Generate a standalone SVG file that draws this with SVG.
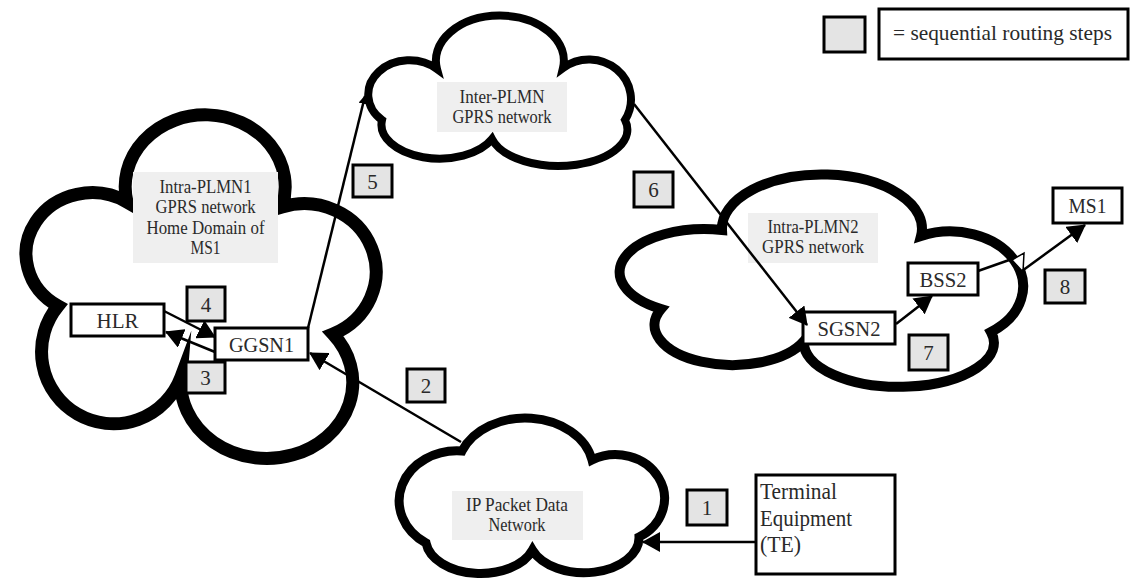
<svg xmlns="http://www.w3.org/2000/svg" width="1130" height="579" viewBox="0 0 1130 579">
<style>
.cloud{fill:#fff;stroke:#000;stroke-linejoin:miter;stroke-miterlimit:10}
.lab{fill:#efefef}
.t{font-family:"Liberation Serif","Times New Roman",serif;fill:#2a2a2a}
.lt{font-size:18px;text-anchor:middle}
.box{fill:#fff;stroke:#000;stroke-width:3}
.bt{font-size:22px;text-anchor:middle}
.step{fill:#e4e4e4;stroke:#000;stroke-width:3}
.st{font-size:21px;text-anchor:middle}
.conn{stroke:#000;stroke-width:2.5;fill:none}
</style>
<defs>
<marker id="ah" markerUnits="userSpaceOnUse" markerWidth="18" markerHeight="20" viewBox="0 0 18 20" refX="17" refY="10" orient="auto"><path d="M0,0 L18,10 L0,20 z" fill="#000"/></marker>
<marker id="ahs" markerUnits="userSpaceOnUse" markerWidth="9" markerHeight="9" viewBox="0 0 9 9" refX="8" refY="4.5" orient="auto"><path d="M0,0 L9,4.5 L0,9 z" fill="#000"/></marker>
</defs>

<g id="cloud-intra-plmn1">
<path class="cloud" stroke-width="13" d="M127,202 A80,72 0 1 1 282,207 A72,68 0 0 1 333,334 A86,76 0 1 1 181,377 A72,72 0 1 1 58,306 A66,61 0 1 1 127,202 Z"/>
<rect class="lab" x="133" y="172" width="145" height="91"/>
<text class="t lt" x="205.5" y="193" textLength="92" lengthAdjust="spacingAndGlyphs">Intra-PLMN1</text>
<text class="t lt" x="205.5" y="213" textLength="100" lengthAdjust="spacingAndGlyphs">GPRS network</text>
<text class="t lt" x="205.5" y="234" textLength="118" lengthAdjust="spacingAndGlyphs">Home Domain of</text>
<text class="t lt" x="205.5" y="254" textLength="30" lengthAdjust="spacingAndGlyphs">MS1</text>
</g>

<g id="cloud-inter-plmn">
<path class="cloud" stroke-width="8" d="M437,69 A64,45 0 1 1 563,68 A42,40 0 0 1 625,120 A68,36 0 0 1 492,139 A58,34 0 0 1 382,120 A41,34 0 0 1 437,69 Z"/>
<rect class="lab" x="437" y="82" width="130" height="50"/>
<text class="t lt" x="502" y="103" textLength="85" lengthAdjust="spacingAndGlyphs">Inter-PLMN</text>
<text class="t lt" x="502" y="123" textLength="99" lengthAdjust="spacingAndGlyphs">GPRS network</text>
</g>

<g id="cloud-intra-plmn2">
<path class="cloud" stroke-width="10" d="M722,230 A100,54 0 1 1 921,236 A73,55 0 0 1 991,332 A95,44 0 1 1 804,341 A78,40 0 1 1 661,309 A85,43 0 0 1 722,230 Z"/>
<rect class="lab" x="748" y="213" width="130" height="50"/>
<text class="t lt" x="813" y="233" textLength="91" lengthAdjust="spacingAndGlyphs">Intra-PLMN2</text>
<text class="t lt" x="813" y="253" textLength="102" lengthAdjust="spacingAndGlyphs">GPRS network</text>
</g>

<g id="cloud-ip-network">
<path class="cloud" stroke-width="9" d="M462,451 A68,52 0 0 1 592,460 A47.5,42.5 0 0 1 639,537 A55,35 0 0 1 532.5,550 A55,35 0 0 1 426,543 A58,50 0 0 1 462,451 Z"/>
<rect class="lab" x="452" y="491" width="131" height="49"/>
<text class="t lt" x="517" y="511" textLength="102" lengthAdjust="spacingAndGlyphs">IP Packet Data</text>
<text class="t lt" x="517" y="531" textLength="57" lengthAdjust="spacingAndGlyphs">Network</text>
</g>

<g id="hlr"><rect class="box" x="71" y="304" width="93" height="32"/><text class="t bt" x="117.5" y="328" textLength="42" lengthAdjust="spacingAndGlyphs">HLR</text></g>
<g id="ggsn1"><rect class="box" x="215" y="328" width="93" height="32"/><text class="t bt" x="261.5" y="352" textLength="65" lengthAdjust="spacingAndGlyphs">GGSN1</text></g>
<g id="sgsn2"><rect class="box" x="803" y="312" width="92" height="32"/><text class="t bt" x="849" y="336" textLength="63" lengthAdjust="spacingAndGlyphs">SGSN2</text></g>
<g id="bss2"><rect class="box" x="908" y="263" width="70" height="32"/><text class="t bt" x="943" y="287" textLength="47" lengthAdjust="spacingAndGlyphs">BSS2</text></g>
<g id="ms1"><rect class="box" x="1053" y="188" width="69" height="35"/><text class="t bt" x="1087.5" y="213" textLength="38" lengthAdjust="spacingAndGlyphs">MS1</text></g>
<g id="te"><rect class="box" x="756" y="475" width="139" height="99"/>
<text class="t" font-size="23" x="760" y="499" textLength="77" lengthAdjust="spacingAndGlyphs">Terminal</text>
<text class="t" font-size="23" x="760" y="526" textLength="92" lengthAdjust="spacingAndGlyphs">Equipment</text>
<text class="t" font-size="23" x="760" y="552" textLength="41" lengthAdjust="spacingAndGlyphs">(TE)</text></g>

<g id="connectors">
<path class="conn" d="M756,542 L643,542" marker-end="url(#ah)"/>
<path class="conn" d="M461,442 L310,353" marker-end="url(#ah)"/>
<path class="conn" d="M215,352 L166,332" marker-end="url(#ah)"/>
<path class="conn" d="M164,311 L215,337" marker-end="url(#ah)"/>
<path class="conn" d="M308,328 L365,96" marker-end="url(#ahs)"/>
<path class="conn" d="M634,104 L807,325" marker-end="url(#ah)"/>
<path class="conn" d="M896,324 L932,296" marker-end="url(#ah)"/>
<path class="conn" d="M978,271 L1012,259"/>
<polygon points="1012,260 1024,253 1023,272" fill="#fff" stroke="#000" stroke-width="1.5"/>
<path class="conn" d="M1022,271 L1085,225" marker-end="url(#ah)"/>
</g>

<g id="steps">
<g id="step1"><rect class="step" x="687" y="490" width="40" height="35"/><text class="t st" x="707" y="515">1</text></g>
<g id="step2"><rect class="step" x="407" y="369" width="38" height="33"/><text class="t st" x="426" y="393">2</text></g>
<g id="step3"><rect class="step" x="186" y="362" width="39" height="31"/><text class="t st" x="205.5" y="385">3</text></g>
<g id="step4"><rect class="step" x="187" y="287" width="38" height="34"/><text class="t st" x="206" y="312">4</text></g>
<g id="step5"><rect class="step" x="353" y="165" width="39" height="32"/><text class="t st" x="372.5" y="189">5</text></g>
<g id="step6"><rect class="step" x="634" y="172" width="39" height="35"/><text class="t st" x="653.5" y="197">6</text></g>
<g id="step7"><rect class="step" x="909" y="335" width="39" height="35"/><text class="t st" x="928.5" y="360">7</text></g>
<g id="step8"><rect class="step" x="1045" y="270" width="40" height="33"/><text class="t st" x="1065" y="294">8</text></g>
</g>

<g id="legend">
<rect class="step" x="824" y="17" width="41" height="35"/>
<rect class="box" x="879" y="9" width="249" height="50"/>
<text class="t" font-size="21.5" x="893" y="40" textLength="219" lengthAdjust="spacingAndGlyphs">= sequential routing steps</text>
</g>
</svg>
